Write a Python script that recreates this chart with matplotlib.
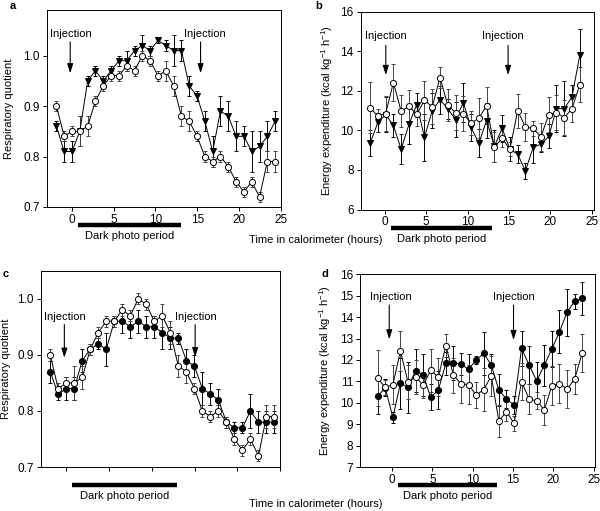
import matplotlib
matplotlib.use('Agg')
import matplotlib.pyplot as plt
from matplotlib.transforms import blended_transform_factory

plt.rcParams['font.family'] = ['Liberation Sans', 'DejaVu Sans']
plt.rcParams['mathtext.fontset'] = 'custom'
plt.rcParams['mathtext.rm'] = 'Liberation Sans'
plt.rcParams['mathtext.it'] = 'Liberation Sans:italic'
plt.rcParams['font.size'] = 8

# time points (hours) for respiratory quotient and energy expenditure
t_rq = [-1.85, -0.92, 0.02, 0.95, 1.89, 2.82, 3.76, 4.69, 5.63, 6.56, 7.5, 8.43,
        9.37, 10.3, 11.24, 12.17, 13.11, 14.04, 14.98, 15.91, 16.85, 17.78,
        18.72, 19.65, 20.59, 21.52, 22.46, 23.39, 24.33]
t_ee = [-1.8, -0.86, 0.08, 1.02, 1.96, 2.9, 3.84, 4.78, 5.72, 6.66, 7.6, 8.54,
        9.48, 10.42, 11.36, 12.3, 13.24, 14.18, 15.12, 16.06, 17.0, 17.94,
        18.88, 19.82, 20.76, 21.7, 22.64, 23.58]

# control (open circles), same in a/c and in b/d
rq_ctrl = [0.90, 0.84, 0.85, 0.85, 0.86, 0.91, 0.94, 0.96, 0.96, 0.98, 0.97, 1.00,
           0.99, 0.96, 0.97, 0.94, 0.88, 0.87, 0.84, 0.80, 0.79, 0.80, 0.78, 0.75,
           0.73, 0.75, 0.72, 0.79, 0.79]
rq_ctrl_err = [0.01, 0.01, 0.01, 0.03, 0.02, 0.01, 0.01, 0.01, 0.01, 0.01, 0.01, 0.01,
               0.01, 0.01, 0.02, 0.02, 0.02, 0.02, 0.01, 0.01, 0.01, 0.01, 0.01, 0.01,
               0.01, 0.01, 0.01, 0.02, 0.02]
ee_ctrl = [11.15, 10.72, 10.85, 12.42, 10.97, 11.22, 10.82, 11.52, 11.2, 12.67, 11.28,
           10.9, 10.85, 10.36, 10.62, 11.25, 9.15, 9.6, 9.05, 10.99, 10.17, 10.1,
           9.68, 10.8, 10.9, 10.65, 11.1, 12.32]
ee_ctrl_err = [1.3, 0.35, 0.9, 0.95, 0.8, 0.8, 0.6, 1.0, 0.9, 0.55, 0.8, 0.9, 0.9, 0.6,
               1.0, 0.95, 0.75, 0.45, 0.35, 0.85, 0.7, 0.4, 0.7, 0.9, 0.9, 0.9, 0.7, 0.9]

# panel a: triangles
rq_a = [0.86, 0.81, 0.81, 0.85, 0.95, 0.97, 0.95, 0.97, 0.99, 0.99, 1.01, 1.02,
        1.01, 1.03, 1.02, 1.01, 1.01, 0.94, 0.92, 0.87, 0.81, 0.89, 0.88, 0.84,
        0.84, 0.81, 0.82, 0.84, 0.87]
rq_a_err = [0.01, 0.02, 0.02, 0.03, 0.01, 0.01, 0.01, 0.01, 0.01, 0.02, 0.01, 0.02,
            0.01, 0.005, 0.01, 0.03, 0.02, 0.02, 0.01, 0.02, 0.03, 0.03, 0.03, 0.03,
            0.02, 0.04, 0.03, 0.03, 0.02]
# panel b: triangles
ee_b = [9.35, 10.4, 10.8, 10.25, 9.05, 10.3, 11.3, 9.65, 11.0, 11.55, 11.1, 10.55,
        11.4, 10.15, 9.35, 10.5, 9.2, 10.1, 9.05, 8.8, 7.95, 9.15, 9.3, 9.7, 11.1,
        11.1, 11.7, 13.8]
ee_b_err = [0.65, 0.5, 0.9, 0.6, 0.75, 1.0, 0.6, 1.2, 0.9, 0.7, 0.5, 0.9, 1.0, 0.7,
            0.7, 0.9, 0.8, 0.7, 0.6, 0.45, 0.4, 0.8, 0.4, 0.6, 1.2, 1.4, 0.6, 1.35]
# panel c: filled circles
rq_c = [0.87, 0.83, 0.84, 0.84, 0.89, 0.91, 0.92, 0.91, 0.96, 0.96, 0.95, 0.96,
        0.95, 0.95, 0.94, 0.93, 0.93, 0.89, 0.88, 0.84, 0.83, 0.82, 0.78, 0.77,
        0.77, 0.80, 0.78, 0.78, 0.78]
rq_c_err = [0.02, 0.01, 0.02, 0.02, 0.02, 0.01, 0.01, 0.03, 0.01, 0.02, 0.02, 0.02,
            0.02, 0.02, 0.03, 0.02, 0.01, 0.02, 0.02, 0.03, 0.02, 0.02, 0.01, 0.01,
            0.01, 0.03, 0.02, 0.02, 0.02]
# panel d: filled circles
ee_d = [10.32, 10.7, 9.33, 10.91, 10.72, 11.5, 11.3, 10.26, 10.6, 11.84, 11.87, 11.81,
        11.56, 12.0, 12.31, 11.76, 10.6, 10.18, 9.9, 12.54, 11.76, 11.03, 11.76,
        12.51, 13.31, 14.22, 14.74, 14.87]
ee_d_err = [0.85, 0.4, 0.25, 1.2, 1.2, 1.0, 1.0, 0.6, 0.9, 0.55, 0.8, 0.5, 0.7, 0.2,
            1.0, 0.5, 0.75, 0.4, 0.4, 0.8, 0.9, 0.9, 0.95, 0.85, 1.0, 1.1, 0.35, 0.75]

dark_period = (0.75, 13.0)
xticks = [0, 5, 10, 15, 20, 25]

fig = plt.figure(figsize=(6, 5.11), dpi=100)
ax_a = fig.add_axes([0.078, 0.595, 0.390, 0.385])
ax_b = fig.add_axes([0.601, 0.590, 0.389, 0.387])
ax_c = fig.add_axes([0.068, 0.086, 0.399, 0.384])
ax_d = fig.add_axes([0.600, 0.0855, 0.392, 0.378])


def series(ax, t, y, err, marker, face, ecol):
    ax.errorbar(t, y, yerr=err, fmt='none', ecolor=ecol, elinewidth=0.7,
                capsize=1.4, capthick=0.7, zorder=2)
    ax.plot(t, y, '-', color='k', lw=0.7, marker=marker, ms=4.4,
            mfc=face, mec='k', mew=0.7, zorder=3)


def style(ax, xlim, ylim, yticks, fmt, ylabel, labelx, show_xlabels=True):
    ax.set_xlim(*xlim)
    ax.set_ylim(*ylim)
    ax.set_xticks(xticks)
    ax.set_yticks(yticks)
    ax.set_yticklabels([fmt.format(v) for v in yticks])
    if not show_xlabels:
        ax.set_xticklabels([])
    ax.tick_params(direction='out', length=3, width=0.7, labelsize=8.5, pad=2)
    for s in ax.spines.values():
        s.set_linewidth(0.7)
    ax.set_ylabel(ylabel, fontsize=8)
    ax.yaxis.set_label_coords(labelx, 0.5)
    tr = blended_transform_factory(ax.transData, ax.transAxes)
    ax.plot(dark_period, [-0.093, -0.093], color='k', lw=3.2, solid_capstyle='butt',
            transform=tr, clip_on=False)
    ax.text(sum(dark_period) / 2, -0.148, 'Dark photo period', transform=tr,
            ha='center', va='center', fontsize=8)


def injection(ax, x_arrow, x_text, y_text, y_start, y_tip):
    ax.text(x_text, y_text, 'Injection', ha='center', va='center', fontsize=8)
    ax.annotate('', xy=(x_arrow, y_tip), xytext=(x_arrow, y_start),
                arrowprops=dict(arrowstyle='-|>,head_length=0.7,head_width=0.22',
                                color='k', lw=0.8, shrinkA=0, shrinkB=0))


# a
series(ax_a, t_rq, rq_a, rq_a_err, 'v', 'k', 'k')
series(ax_a, t_rq, rq_ctrl, rq_ctrl_err, 'o', 'white', '#444444')
style(ax_a, (-3, 25), (0.7, 1.09), [0.7, 0.8, 0.9, 1.0], '{:.1f}',
      'Respiratory quotient', -0.14)
injection(ax_a, -0.2, -0.1, 1.043, 1.027, 0.965)
injection(ax_a, 15.4, 15.95, 1.043, 1.027, 0.965)

# b
series(ax_b, t_ee, ee_b, ee_b_err, 'v', 'k', 'k')
series(ax_b, t_ee, ee_ctrl, ee_ctrl_err, 'o', 'white', '#444444')
style(ax_b, (-2.95, 25.3), (6, 16), [6, 8, 10, 12, 14, 16], '{:d}',
      r'Energy expenditure (kcal kg$^{-1}$ h$^{-1}$)', -0.11)
injection(ax_b, 0.1, 0.1, 14.77, 14.3, 12.8)
injection(ax_b, 14.9, 14.3, 14.77, 14.3, 12.8)

# c
series(ax_c, t_rq, rq_c, rq_c_err, 'o', 'k', 'k')
series(ax_c, t_rq, rq_ctrl, rq_ctrl_err, 'o', 'white', '#444444')
style(ax_c, (-2.95, 25), (0.7, 1.05), [0.7, 0.8, 0.9, 1.0], '{:.1f}',
      'Respiratory quotient', -0.125, show_xlabels=False)
injection(ax_c, -0.2, -0.1, 0.9675, 0.954, 0.895)
injection(ax_c, 15.07, 15.16, 0.9675, 0.954, 0.896)

# d
series(ax_d, t_ee, ee_d, ee_d_err, 'o', 'k', 'k')
series(ax_d, t_ee, ee_ctrl, ee_ctrl_err, 'o', 'white', '#444444')
style(ax_d, (-4, 25.2), (7, 16), list(range(7, 17)), '{:d}',
      r'Energy expenditure (kcal kg$^{-1}$ h$^{-1}$)', -0.115)
injection(ax_d, -0.37, -0.16, 14.94, 14.56, 12.96)
injection(ax_d, 15.06, 15.15, 14.94, 14.56, 12.93)

# panel letters and shared x label
for lbl, x, y in [('a', 13, 6), ('b', 319, 6), ('c', 6, 274), ('d', 325, 274)]:
    fig.text(x / 600, 1 - y / 511, lbl, fontsize=8, fontweight='bold',
             ha='center', va='center')
fig.text(316 / 600, 1 - 240 / 511, 'Time in calorimeter (hours)', ha='center',
         va='center', fontsize=8)
fig.text(316 / 600, 1 - 504 / 511, 'Time in calorimeter (hours)', ha='center',
         va='center', fontsize=8)

fig.savefig('out.png', dpi=100)
